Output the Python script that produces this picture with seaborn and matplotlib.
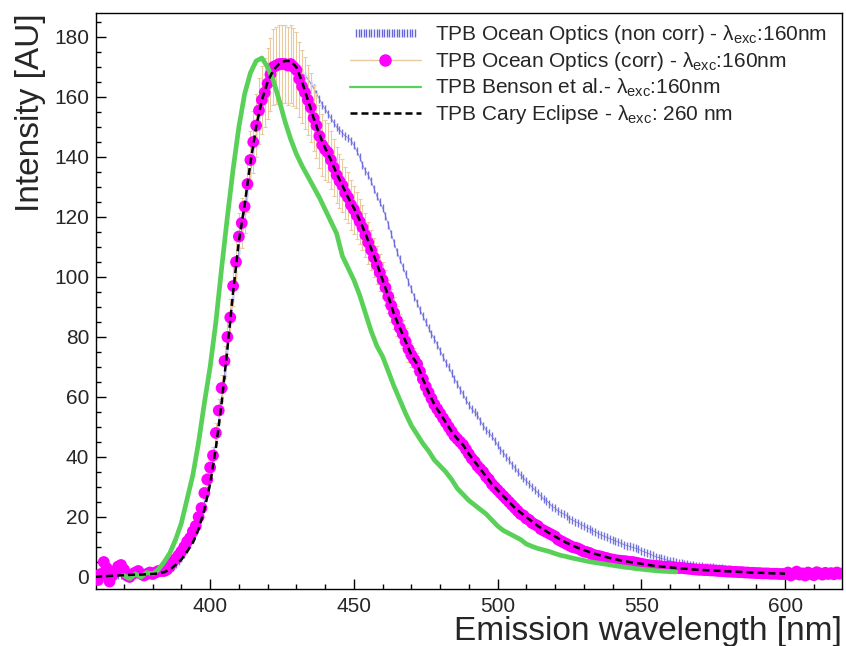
import numpy as np
import matplotlib
matplotlib.use("Agg")
from matplotlib import pyplot as plt
from matplotlib.lines import Line2D
from matplotlib.legend_handler import HandlerLine2D
from matplotlib.ticker import MultipleLocator
import seaborn as sns

# TPB emission spectra (AU)

# Ocean Optics, corrected, 1 nm steps 360..620
wl_corr = np.arange(360, 621)
corr_vals = [
    0.5, -1.0, 1.0, 5.0, 3.0, -1.5, 0.5, 2.0, 3.5, 4.0,
    2.5, 0.5, 0.0, 1.0, 1.5, 2.0, 1.0, 0.5, 1.0, 1.5,
    1.0, 1.5, 2.0, 2.0, 2.0, 2.5, 3.5, 5.0, 6.0, 7.2,
    8.5, 10.0, 11.8, 13.0, 15.2, 17.0, 20.0, 23.0, 28.0, 32.5,
    36.5, 40.5, 48.0, 55.5, 63.0, 72.0, 80.0, 86.5, 97.0, 105.0,
    113.5, 118.0, 123.5, 131.0, 139.0, 145.0, 150.5, 155.5, 159.0, 161.5,
    164.5, 167.5, 170.0, 170.5, 171.0, 171.0, 171.0, 170.5, 171.0, 170.0,
    169.0, 166.0, 163.5, 161.5, 159.0, 156.5, 153.0, 150.5, 147.0, 144.0,
    142.5, 141.5, 139.0, 136.5, 134.0, 132.0, 130.5, 128.0, 126.5, 124.0,
    122.5, 120.5, 118.5, 116.5, 114.0, 111.5, 109.0, 106.5, 104.0, 101.5,
    99.0, 96.5, 93.5, 90.5, 88.0, 85.5, 83.0, 81.0, 78.5, 76.0,
    74.0, 72.5, 71.0, 68.5, 66.0, 63.5, 61.5, 59.5, 57.5, 56.0,
    54.5, 53.0, 51.5, 50.0, 48.5, 47.0, 46.0, 45.0, 44.0, 42.5,
    41.0, 39.5, 38.5, 37.0, 36.0, 35.0, 33.5, 32.5, 31.0, 30.0,
    29.0, 28.0, 27.0, 26.0, 25.0, 24.0, 23.0, 22.0, 21.0, 20.5,
    19.5, 19.0, 18.0, 17.5, 17.0, 16.0, 15.5, 15.0, 14.5, 14.0,
    13.5, 12.5, 12.0, 11.5, 11.0, 10.5, 10.0, 9.8, 9.5, 9.0,
    8.5, 8.3, 8.0, 7.5, 7.2, 7.0, 6.8, 6.5, 6.3, 6.0,
    5.8, 5.6, 5.5, 5.4, 5.3, 5.2, 5.0, 5.0, 4.8, 4.6,
    4.4, 4.2, 4.0, 3.9, 3.8, 3.7, 3.6, 3.5, 3.4, 3.4,
    3.3, 3.2, 3.1, 3.0, 3.0, 2.9, 2.8, 2.7, 2.6, 2.5,
    2.4, 2.4, 2.3, 2.3, 2.2, 2.2, 2.1, 2.0, 2.0, 1.9,
    1.8, 1.8, 1.7, 1.7, 1.6, 1.6, 1.5, 1.5, 1.4, 1.4,
    1.3, 1.3, 1.2, 1.2, 1.2, 1.1, 1.1, 1.1, 1.0, 1.0,
    1.0, 1.5, 0.5, 1.0, 1.8, 0.8, 1.2, 0.5, 1.5, 1.0,
    0.6, 1.6, 1.2, 0.8, 1.4, 1.0, 1.3, 0.9, 1.5, 1.1, 1.2,
]

# error bars on the corrected spectrum (visible between 395 and 480 nm)
wl_err = np.arange(395, 481)
corr_err = [
    1.0, 1.2, 1.5, 1.9, 2.2,
    2.5, 2.8, 3.3, 3.8, 4.4, 5.0, 5.6, 6.1, 6.8, 7.4,
    8.0, 8.3, 8.7, 9.2, 9.7, 10.2, 10.6, 11.0, 11.3, 11.6,
    11.9, 12.3, 12.6, 12.8, 13.0, 13.0, 13.0, 13.0, 13.0, 12.9,
    12.8, 12.5, 12.2, 12.0, 11.7, 11.4, 11.1, 10.8, 10.5, 10.2,
    10.0, 9.8, 9.6, 9.4, 9.2, 9.0, 8.8, 8.6, 8.4, 8.2,
    8.0, 7.8, 7.6, 7.4, 7.2, 7.0, 6.8, 6.6, 6.4, 6.2,
    6.0, 5.8, 5.6, 5.4, 5.2, 5.0, 4.8, 4.6, 4.4, 4.2,
    4.0, 3.8, 3.6, 3.4, 3.2, 3.0, 2.8, 2.6, 2.4, 2.2, 2.0,
]

# Ocean Optics, not corrected, 1 nm steps 360..600
wl_raw = np.arange(360, 601)
raw_vals = [
    0.2, 0.3, 0.3, 0.4, 0.4, 0.5, 0.5, 0.6, 0.6, 0.7,
    0.7, 0.8, 0.8, 0.9, 0.9, 1.0, 1.0, 1.0, 1.1, 1.1,
    1.2, 1.3, 1.4, 1.6, 1.8, 2.1, 2.6, 3.3, 4.2, 5.3,
    6.5, 7.8, 9.3, 11.0, 12.8, 15.0, 17.5, 20.5, 24.5, 29.0,
    34.0, 39.0, 45.0, 52.0, 59.5, 67.5, 76.0, 84.5, 93.0, 101.0,
    109.0, 116.0, 122.0, 128.0, 134.5, 141.0, 147.0, 152.0, 156.5, 160.0,
    163.0, 165.5, 167.5, 169.0, 170.0, 170.5, 171.0, 171.0, 171.0, 170.5,
    170.0, 169.0, 168.0, 167.0, 166.0, 164.5, 163.0, 161.0, 159.5, 157.5,
    156.0, 154.5, 153.0, 151.5, 150.0, 149.0, 148.0, 147.0, 146.5, 145.5,
    144.0, 142.0, 140.0, 137.5, 135.5, 134.0, 132.0, 129.5, 127.0, 125.0,
    123.0, 120.5, 117.5, 114.5, 111.5, 108.5, 106.0, 103.5, 101.0, 98.5,
    96.0, 93.5, 91.5, 89.0, 87.0, 85.0, 83.0, 81.0, 79.5, 77.5,
    75.5, 73.5, 71.5, 70.0, 68.0, 66.0, 64.5, 62.5, 61.0, 59.0,
    57.5, 56.0, 55.0, 54.0, 52.0, 50.5, 49.0, 48.0, 47.0, 45.5,
    44.0, 42.5, 41.5, 40.0, 39.0, 37.5, 36.5, 35.0, 34.0, 33.0,
    32.0, 31.0, 30.0, 29.0, 28.0, 27.0, 26.0, 25.5, 24.5, 23.5,
    23.0, 22.0, 21.5, 21.0, 20.5, 19.5, 19.0, 18.5, 18.0, 17.5,
    17.0, 16.5, 16.0, 15.5, 15.0, 14.5, 14.0, 13.6, 13.2, 12.8,
    12.4, 12.0, 11.6, 11.2, 10.8, 10.5, 10.2, 9.9, 9.6, 9.2,
    8.8, 8.4, 8.0, 7.6, 7.2, 6.8, 6.5, 6.2, 5.9, 5.6,
    5.4, 5.2, 5.0, 4.8, 4.6, 4.4, 4.2, 4.0, 3.9, 3.8,
    3.7, 3.6, 3.5, 3.4, 3.3, 3.2, 3.1, 3.0, 2.9, 2.8,
    2.7, 2.6, 2.5, 2.4, 2.3, 2.2, 2.1, 2.0, 2.0, 1.9,
    1.8, 1.8, 1.7, 1.6, 1.6, 1.5, 1.5, 1.4, 1.4, 1.3, 1.3,
]

# Benson et al., 2 nm steps 370..562
wl_benson = np.arange(370, 563, 2)
benson_vals = [
    0.5, -0.5, 1.0, 0.0, 1.5, 1.0, 2.5, 5.0, 8.0, 12.5,
    18.0, 26.0, 34.0, 45.0, 58.0, 70.0, 85.0, 103.0, 120.0, 136.0,
    150.0, 161.0, 168.0, 172.0, 173.0, 170.0, 165.5, 159.0, 152.0, 146.0,
    141.0, 137.0, 133.5, 130.0, 126.5, 122.5, 118.5, 114.5, 107.0, 103.0,
    99.0, 94.0, 88.0, 82.0, 77.0, 73.5, 68.5, 63.5, 59.0, 54.5,
    50.5, 47.5, 44.5, 42.0, 39.0, 37.0, 35.0, 32.5, 29.5, 27.5,
    25.5, 24.0, 22.5, 21.0, 19.0, 17.0, 15.5, 14.5, 13.5, 12.5,
    11.0, 10.2, 9.5, 9.0, 8.5, 7.8, 7.2, 6.8, 6.3, 5.9,
    5.5, 5.1, 4.8, 4.5, 4.2, 3.9, 3.6, 3.3, 3.1, 2.8,
    2.6, 2.4, 2.2, 2.0, 1.9, 1.8, 1.7,
]

# Cary Eclipse, 2 nm steps 360..600
wl_cary = np.arange(360, 601, 2)
cary_vals = [
    0.0, 0.2, 0.3, 0.4, 0.5, 0.6, 0.7, 0.8, 0.8, 0.9,
    1.0, 1.2, 1.6, 2.5, 4.0, 5.8, 8.5, 11.5, 16.0, 22.5,
    31.0, 43.0, 58.0, 76.0, 95.0, 112.0, 124.0, 138.0, 150.0, 159.0,
    165.0, 169.0, 171.0, 172.0, 172.0, 170.0, 165.0, 159.0, 153.0, 147.5,
    143.0, 139.0, 134.5, 130.5, 126.5, 123.0, 119.0, 114.5, 109.5, 104.5,
    99.0, 93.5, 87.5, 83.0, 78.5, 74.0, 71.0, 66.0, 61.5, 57.5,
    54.5, 51.5, 48.5, 46.0, 44.0, 41.0, 38.5, 36.0, 33.5, 31.0,
    29.0, 27.0, 25.0, 23.0, 21.5, 20.0, 18.5, 17.0, 15.8, 14.6,
    13.5, 12.4, 11.4, 10.5, 9.7, 9.0, 8.3, 7.7, 7.1, 6.6,
    6.1, 5.7, 5.3, 5.0, 4.7, 4.4, 4.1, 3.8, 3.6, 3.4,
    3.2, 3.0, 2.8, 2.7, 2.5, 2.4, 2.3, 2.2, 2.1, 2.0,
    1.9, 1.8, 1.7, 1.6, 1.5, 1.4, 1.4, 1.3, 1.2, 1.2, 1.1,
]

labels = [
    "TPB Ocean Optics (non corr) - λ$_{\\mathrm{exc}}$:160nm",
    "TPB Ocean Optics (corr) - λ$_{\\mathrm{exc}}$:160nm",
    "TPB Benson et al.- λ$_{\\mathrm{exc}}$:160nm",
    "TPB Cary Eclipse - λ$_{\\mathrm{exc}}$: 260 nm",
]

c_blue = "#6565dc"
c_tan = "#e9c9a0"
c_mag = "#ff00ff"
c_green = "#59d159"
dash = (0, (2.8, 1.6))

sns.set_style("ticks")
plt.rcParams["font.family"] = ["Liberation Sans", "DejaVu Sans"]
plt.rcParams["mathtext.fontset"] = "custom"
plt.rcParams["mathtext.rm"] = "Liberation Sans"
plt.rcParams["mathtext.it"] = "Liberation Sans:italic"
plt.rcParams["mathtext.bf"] = "Liberation Sans:bold"

fig = plt.figure(figsize=(8.46, 6.46), dpi=100)
ax = fig.add_axes([96 / 846, 57 / 646, 746 / 846, 576 / 646])

# non corrected spectrum: dense vertical ticks
sns.lineplot(x=wl_raw, y=raw_vals, ax=ax, color=c_blue, lw=0.5, alpha=0.9,
             marker="|", markersize=6, mew=1.0, mec=c_blue,
             estimator=None, sort=False, legend=False)

# corrected spectrum with error bars
corr_sub = [corr_vals[int(w - 360)] for w in wl_err]
ax.errorbar(wl_err, corr_sub, yerr=corr_err, fmt="none", ecolor=c_tan,
            elinewidth=0.8, capsize=1.5, capthick=0.8, zorder=2)
sns.scatterplot(x=wl_corr, y=corr_vals, ax=ax, color=c_mag, s=72,
                edgecolor="none", linewidth=0, zorder=3, legend=False)

sns.lineplot(x=wl_benson, y=benson_vals, ax=ax, color=c_green, lw=3.4,
             estimator=None, sort=False, legend=False, zorder=4)
sns.lineplot(x=wl_cary, y=cary_vals, ax=ax, color="black", lw=1.8,
             linestyle=dash, estimator=None, sort=False, legend=False, zorder=5)

ax.set_xlim(360.3, 619.8)
ax.set_ylim(-4, 188)
ax.xaxis.set_major_locator(MultipleLocator(50))
ax.xaxis.set_minor_locator(MultipleLocator(10))
ax.yaxis.set_major_locator(MultipleLocator(20))
ax.yaxis.set_minor_locator(MultipleLocator(5))
ax.tick_params(which="both", direction="in", top=False, right=False,
               labelsize=15, color="black", width=1)
ax.tick_params(axis="y", which="major", length=7, pad=5)
ax.tick_params(axis="y", which="minor", length=3.5)
ax.tick_params(axis="x", which="major", length=7, pad=6)
ax.tick_params(axis="x", which="minor", length=3.5)
for sp in ax.spines.values():
    sp.set_linewidth(1)
    sp.set_color("black")

ax.set_xlabel("Emission wavelength [nm]", fontsize=24, loc="right", labelpad=0)
ax.set_ylabel("Intensity [AU]", fontsize=24, loc="top", labelpad=6)

h_raw = Line2D([], [], color=c_blue, linestyle="none", marker="|",
               markersize=6, mew=1.0)
h_corr = Line2D([], [], color=c_tan, lw=1, marker="o", markersize=8,
                mfc=c_mag, mec=c_mag)
h_benson = Line2D([], [], color=c_green, lw=1.6)
h_cary = Line2D([], [], color="black", lw=1.8, linestyle=dash)
fig.legend([h_raw, h_corr, h_benson, h_cary], labels,
           handler_map={h_raw: HandlerLine2D(numpoints=24)},
           loc="upper left", bbox_to_anchor=(350 / 846, 1 - 23 / 646),
           bbox_transform=fig.transFigure, frameon=False, fontsize=15,
           handlelength=3.4, handletextpad=0.7, labelspacing=0.19,
           borderpad=0, borderaxespad=0)

fig.savefig("out.png", dpi=100)
